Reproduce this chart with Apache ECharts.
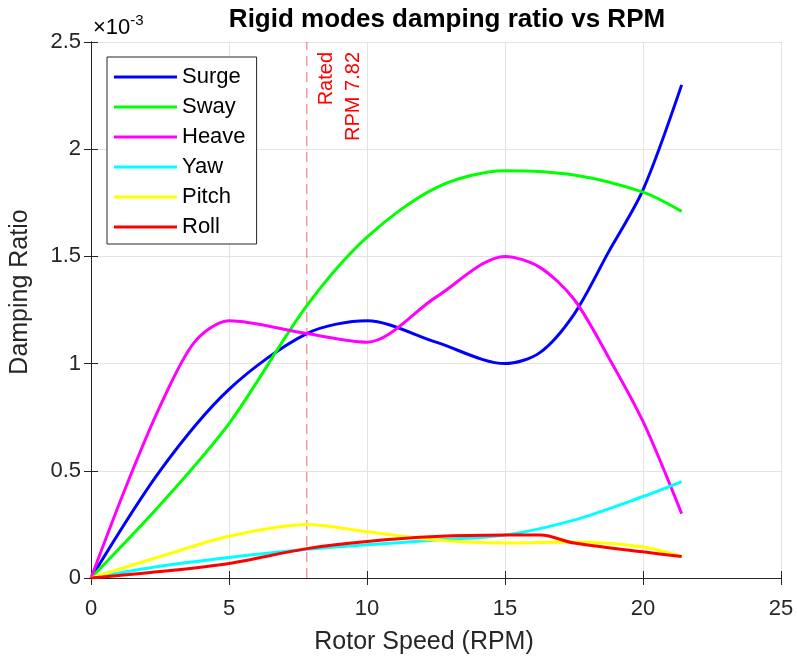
<!DOCTYPE html>
<html>
<head>
<meta charset="utf-8">
<title>Rigid modes damping ratio vs RPM</title>
<script src="https://cdn.jsdelivr.net/npm/echarts@6/dist/echarts.min.js"></script>
<style>
  html, body { margin: 0; padding: 0; background: #ffffff; }
  #chart { width: 797px; height: 661px; }
</style>
</head>
<body>
<div id="chart"></div>
<script>
// Damping ratio per rigid-body mode, values in units of 1e-3, as [rotor speed (RPM), ratio]
const surge = [[0, 0], [2.5, 0.5], [5, 0.88], [7.82, 1.14], [10, 1.2], [12.5, 1.1], [15, 1.0], [16.25, 1.05], [17.5, 1.23], [18.75, 1.52], [20, 1.81], [21.4, 2.3]];
const sway  = [[0, 0], [2.5, 0.34], [5, 0.72], [7.82, 1.27], [10, 1.59], [12.5, 1.82], [15, 1.9], [17.5, 1.88], [20, 1.8], [21.4, 1.71]];
const heave = [[0, 0], [1.25, 0.42], [2.5, 0.8], [3.75, 1.1], [5, 1.2], [7.82, 1.14], [10, 1.1], [12.5, 1.31], [15, 1.5], [16.25, 1.45], [17.5, 1.3], [18.75, 1.03], [20, 0.73], [21.4, 0.3]];
const yaw   = [[0, 0], [2.5, 0.055], [5, 0.096], [7.82, 0.134], [10, 0.155], [12.5, 0.177], [15, 0.2], [17.5, 0.27], [20, 0.38], [21.4, 0.45]];
const pitch = [[0, 0], [2.5, 0.1], [5, 0.195], [7.82, 0.25], [10, 0.216], [12.5, 0.177], [15, 0.163], [17.5, 0.168], [20, 0.145], [21.4, 0.1]];
const roll  = [[0, 0], [2.5, 0.03], [5, 0.068], [7.82, 0.137], [10, 0.17], [12.5, 0.193], [15, 0.2], [16.3, 0.2], [17.5, 0.163], [20, 0.122], [21.4, 0.1]];

const modeNames  = ['Surge', 'Sway', 'Heave', 'Yaw', 'Pitch', 'Roll'];
const modeData   = [surge, sway, heave, yaw, pitch, roll];
const modeColors = ['#0000ff', '#00ff00', '#ff00ff', '#00ffff', '#ffff00', '#ff0000'];

const ratedRPM = 7.82;
const xRange = { min: 0, max: 25, interval: 5 };
const yRange = { min: 0, max: 2.5, interval: 0.5 };

const FONT = "'Liberation Sans', Arial, Helvetica, sans-serif";
const AXIS_COLOR = '#262626';
const RATED_COLOR = 'rgba(255, 40, 40, 0.7)';

const chart = echarts.init(document.getElementById('chart'), null, { renderer: 'canvas' });

// Rated speed marker: vertical dashed line spanning the whole y range
const series = [{
  name: 'Rated',
  type: 'line',
  data: [[ratedRPM, yRange.min], [ratedRPM, yRange.max]],
  showSymbol: false,
  symbol: 'none',
  silent: true,
  lineStyle: { color: RATED_COLOR, width: 1, type: [10, 6] },
  z: 2,
  animation: false
}];

modeNames.forEach((name, i) => {
  series.push({
    name: name,
    type: 'line',
    data: modeData[i],
    showSymbol: false,
    symbol: 'none',
    smooth: 0.3,
    lineStyle: { color: modeColors[i], width: 3 },
    itemStyle: { color: modeColors[i] },
    z: 3 + i,
    animation: false
  });
});

const hiddenAxisCommon = {
  axisLabel: { show: false },
  splitLine: { show: false },
  axisLine: { show: true, lineStyle: { color: AXIS_COLOR, width: 1 } },
  axisTick: { show: true, inside: true, length: 7, lineStyle: { color: AXIS_COLOR } }
};

chart.setOption({
  animation: false,
  backgroundColor: '#ffffff',
  title: {
    text: 'Rigid modes damping ratio vs RPM',
    left: 447,
    top: 7,
    textAlign: 'center',
    padding: 0,
    textStyle: { fontFamily: FONT, fontSize: 26, fontWeight: 'bold', color: '#000000' }
  },
  legend: {
    orient: 'vertical',
    left: 107,
    top: 57,
    data: modeNames,
    icon: 'rect',
    itemWidth: 63,
    itemHeight: 3,
    itemGap: 8,
    padding: [9, 11, 6, 7],
    backgroundColor: '#ffffff',
    borderColor: AXIS_COLOR,
    borderWidth: 1,
    borderRadius: 0,
    textStyle: { fontFamily: FONT, fontSize: 22, color: '#000000', padding: [0, 0, 0, 0] },
    z: 20
  },
  grid: { left: 91, right: 16, top: 42, bottom: 83, containLabel: false },
  xAxis: [
    {
      type: 'value',
      min: xRange.min, max: xRange.max, interval: xRange.interval,
      name: 'Rotor Speed (RPM)',
      nameLocation: 'middle',
      nameGap: 52,
      nameTextStyle: { fontFamily: FONT, fontSize: 25, color: AXIS_COLOR, padding: [0, 24, 0, 0] },
      axisLine: { show: true, onZero: false, lineStyle: { color: AXIS_COLOR, width: 1 } },
      axisTick: { show: true, inside: true, length: 7, lineStyle: { color: AXIS_COLOR } },
      axisLabel: { fontFamily: FONT, fontSize: 22, color: AXIS_COLOR, margin: 20 },
      splitLine: { show: true, lineStyle: { color: '#e3e3e3', width: 1 } }
    },
    Object.assign({
      type: 'value', position: 'top',
      min: xRange.min, max: xRange.max, interval: xRange.interval
    }, hiddenAxisCommon)
  ],
  yAxis: [
    {
      type: 'value',
      min: yRange.min, max: yRange.max, interval: yRange.interval,
      name: 'Damping Ratio',
      nameLocation: 'middle',
      nameGap: 58,
      nameTextStyle: { fontFamily: FONT, fontSize: 25, color: AXIS_COLOR, padding: [0, 0, 0, 36] },
      axisLine: { show: true, onZero: false, lineStyle: { color: AXIS_COLOR, width: 1 } },
      axisTick: { show: true, inside: true, length: 7, lineStyle: { color: AXIS_COLOR } },
      axisLabel: { fontFamily: FONT, fontSize: 22, color: AXIS_COLOR, margin: 10 },
      splitLine: { show: true, lineStyle: { color: '#e3e3e3', width: 1 } }
    },
    Object.assign({
      type: 'value', position: 'right',
      min: yRange.min, max: yRange.max, interval: yRange.interval
    }, hiddenAxisCommon)
  ],
  series: series
});

// Annotations placed through the axis scales
const topLeft = chart.convertToPixel({ xAxisIndex: 0, yAxisIndex: 0 }, [xRange.min, yRange.max]);
const ratedTop = chart.convertToPixel({ xAxisIndex: 0, yAxisIndex: 0 }, [ratedRPM, yRange.max]);

chart.setOption({
  graphic: [
    {
      type: 'text',
      x: topLeft[0] + 2,
      y: topLeft[1] - 3,
      z: 30,
      style: {
        text: '{a|×10}{b|-3}',
        fontFamily: FONT,
        verticalAlign: 'bottom',
        align: 'left',
        rich: {
          a: { fontFamily: FONT, fontSize: 22, color: AXIS_COLOR, verticalAlign: 'bottom' },
          b: { fontFamily: FONT, fontSize: 15, color: AXIS_COLOR, verticalAlign: 'top', padding: [0, 0, 11, 0] }
        }
      }
    },
    {
      type: 'text',
      x: ratedTop[0] + 6,
      y: ratedTop[1] + 10,
      rotation: Math.PI / 2,
      z: 30,
      style: {
        text: 'Rated\nRPM 7.82',
        fontFamily: FONT,
        fontSize: 20,
        lineHeight: 27,
        fill: '#ff0000',
        align: 'right',
        verticalAlign: 'top'
      }
    }
  ]
});
</script>
</body>
</html>
